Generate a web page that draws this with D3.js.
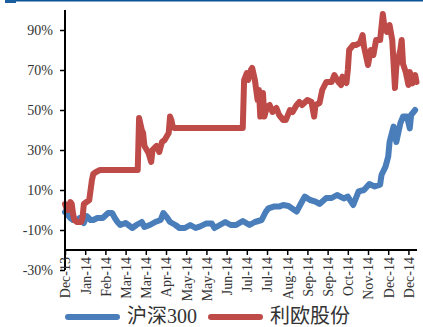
<!DOCTYPE html>
<html>
<head>
<meta charset="utf-8">
<script src="https://cdn.jsdelivr.net/npm/d3@7"></script>
<style>
  html, body { margin: 0; padding: 0; background: #fff; }
  svg { display: block; }
</style>
</head>
<body>
<svg id="chart" width="423" height="327"></svg>
<script>
// trading-day index (0 = late Dec-13) and cumulative return in %
const hs300Days = [0, 1, 4, 6, 9, 11, 14, 16, 19, 21, 24, 26, 28, 32, 35, 37, 39, 41, 45, 50, 53, 57, 59, 63, 67, 71, 73, 76, 78, 82, 85, 89, 93, 97, 99, 100, 105, 109, 111, 115, 119, 123, 127, 132, 137, 141, 146, 149, 151, 155, 159, 162, 166, 172, 175, 178, 182, 186, 189, 194, 198, 202, 207, 210, 214, 218, 222, 226, 230, 234, 235, 238, 240, 241, 244, 246, 249, 251, 254, 256, 257, 260];
const hs300Values = [-1, -1.5, -4, -5, -5, -4, -6.5, -3, -5, -5, -4, -4, -4, -1.5, -1.5, -4, -6, -7.5, -6.5, -9, -7.5, -6, -8.5, -7.5, -6, -5, -1.5, -4, -6, -7.5, -9, -9, -7.5, -9, -8.5, -8.3, -6.7, -6.7, -9, -7.5, -6, -7.5, -7.5, -5.5, -7.5, -6, -5, -1, 0.8, 1.7, 1.7, 2.5, 2, -0.8, 3, 6.7, 5, 4.2, 3, 6, 6, 7.5, 5.8, 6.7, 2.5, 9.3, 10, 13, 11.8, 12.7, 17.5, 21.7, 26.7, 34, 41.7, 34, 43.3, 46.7, 46.7, 40.8, 47.5, 50];

const liouDays = [0, 1, 2, 4, 5, 6, 7, 9, 12, 13, 14, 16, 18, 20, 21, 23, 26, 54, 55, 57, 58, 59, 62, 64, 65, 68, 70, 72, 74, 77, 78, 79, 80, 81, 132, 133, 135, 136, 138, 139, 141, 142, 143, 144, 145, 147, 148, 150, 152, 154, 157, 159, 162, 164, 167, 169, 172, 174, 176, 180, 183, 185, 186, 189, 191, 194, 198, 200, 203, 205, 206, 209, 210, 211, 214, 216, 219, 221, 222, 225, 227, 229, 231, 234, 236, 237, 239, 241, 243, 245, 246, 249, 250, 251, 253, 255, 256, 258, 260, 261];
const liouValues = [3, 1, 0, 4, 3, -2, -5, -6, -6, -4, 3, 4, 5, 15, 18, 19, 20, 20, 46, 40, 38.5, 32, 28.5, 24, 30, 32, 29, 34, 35, 38.5, 46.7, 45, 41.7, 41, 41, 65, 68.5, 65, 70, 71, 65, 60, 55, 60, 46.7, 58.5, 46.7, 51.7, 52.5, 49, 51, 47.5, 45, 45, 50, 49, 52.5, 54, 52.5, 55, 54, 46.7, 52.5, 53.5, 60, 64, 64, 67.5, 64, 62.5, 66.7, 63.5, 70, 80, 82.5, 82.5, 83.5, 87.5, 81.7, 72.5, 80, 77.5, 85, 85, 98, 92.5, 89, 92.5, 85, 61, 71.7, 80, 85, 73, 69, 62.5, 69, 63.3, 67.5, 64];

const xTickDays = [0, 15, 30, 45, 60, 75, 90, 105, 120, 135, 150, 165, 180, 195, 210, 225, 240, 255];
const xTickLabels = ["Dec-13", "Jan-14", "Feb-14", "Mar-14", "Mar-14", "Apr-14", "May-14", "May-14", "Jun-14", "Jul-14", "Jul-14", "Aug-14", "Sep-14", "Sep-14", "Oct-14", "Nov-14", "Dec-14", "Dec-14"];
const yTicks = [90, 70, 50, 30, 10, -10, -30];

const seriesNames = ["沪深300", "利欧股份"];
const seriesColors = ["#4a7ebb", "#be4b48"];

const svg = d3.select("#chart");
const labelFont = "'Liberation Serif', 'Times New Roman', serif";

// header rule
svg.append("rect").attr("x", 5).attr("y", 0).attr("width", 418).attr("height", 1.5).attr("fill", "#0b5394");
svg.append("rect").attr("x", 5).attr("y", 0).attr("width", 11).attr("height", 3).attr("fill", "#1a5fa0");

const x = d3.scaleLinear().domain([0, 261]).range([65, 416.5]);
const y = d3.scaleLinear().domain([-30, 100]).range([270, 10]);
const axisY = y(-20);

const line = d3.line()
  .x((d) => x(d[0]))
  .y((d) => y(d[1]));

const series = [
  d3.zip(hs300Days, hs300Values),
  d3.zip(liouDays, liouValues)
];

series.forEach((pts, i) => {
  svg.append("path")
    .datum(pts)
    .attr("fill", "none")
    .attr("stroke", seriesColors[i])
    .attr("stroke-width", 6)
    .attr("stroke-linejoin", "round")
    .attr("stroke-linecap", "round")
    .attr("d", line);
});

// y axis
const yAxis = svg.append("g")
  .attr("transform", "translate(65,0)")
  .call(d3.axisLeft(y).tickValues(yTicks).tickSize(5).tickPadding(7).tickFormat((d) => d + "%"));
yAxis.select(".domain").remove();
yAxis.selectAll(".tick line").attr("stroke", "#000").attr("stroke-width", 1.5);
yAxis.selectAll("text").attr("font-family", labelFont).attr("font-size", 14).attr("fill", "#333");
svg.append("line")
  .attr("x1", 65).attr("x2", 65)
  .attr("y1", y(100)).attr("y2", y(-30))
  .attr("stroke", "#000").attr("stroke-width", 2);

// x axis
const xAxis = svg.append("g")
  .attr("transform", `translate(0,${axisY})`)
  .call(d3.axisBottom(x).tickValues(xTickDays).tickSize(5).tickFormat((d, i) => xTickLabels[i]));
xAxis.select(".domain").remove();
xAxis.selectAll(".tick line").attr("stroke", "#000").attr("stroke-width", 1.5);
xAxis.selectAll("text")
  .attr("font-family", labelFont)
  .attr("font-size", 14)
  .attr("fill", "#333")
  .attr("text-anchor", "end")
  .attr("dy", "0.35em")
  .attr("transform", "translate(0,1) rotate(-90)")
  .attr("x", -6)
  .attr("y", 0);
svg.append("line")
  .attr("x1", 65).attr("x2", 417)
  .attr("y1", axisY).attr("y2", axisY)
  .attr("stroke", "#000").attr("stroke-width", 2);

// legend
const legendX = [65, 208];
const legend = svg.append("g");
seriesNames.forEach((name, i) => {
  legend.append("line")
    .attr("x1", legendX[i] + 3).attr("x2", legendX[i] + 52)
    .attr("y1", 317).attr("y2", 317)
    .attr("stroke", seriesColors[i])
    .attr("stroke-width", 6)
    .attr("stroke-linecap", "round");
  legend.append("text")
    .attr("x", legendX[i] + 62)
    .attr("y", 323)
    .attr("font-family", "'Liberation Serif', 'Noto Sans CJK SC', serif")
    .attr("font-size", 20)
    .attr("fill", "#333")
    .text(name);
});
</script>
</body>
</html>
